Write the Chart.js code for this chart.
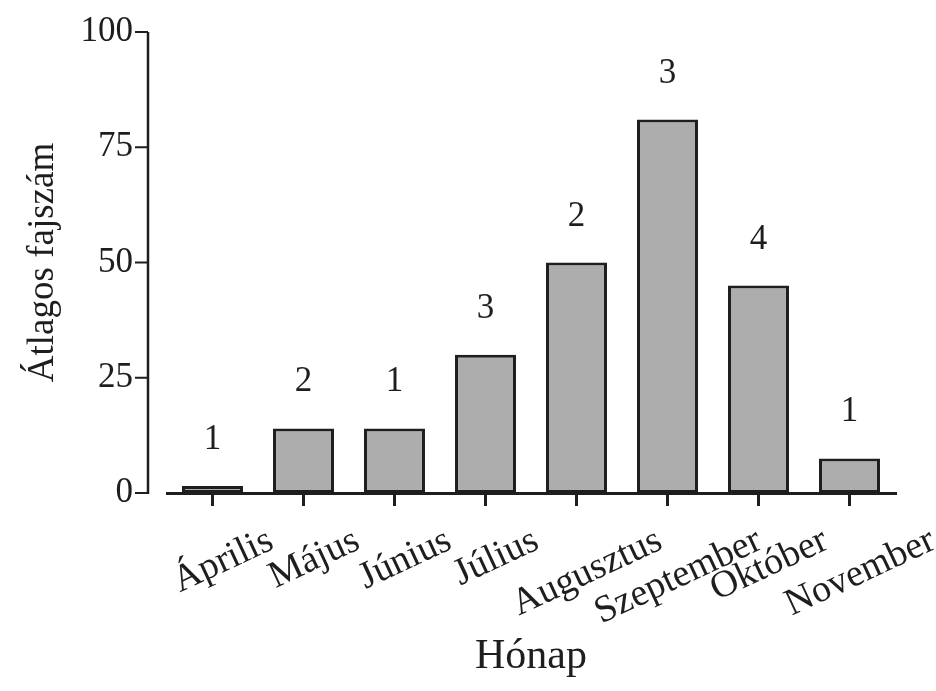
<!DOCTYPE html>
<html lang="hu">
<head>
<meta charset="utf-8">
<title>Átlagos fajszám havonta</title>
<script src="https://cdn.jsdelivr.net/npm/chart.js@4.4.1/dist/chart.umd.min.js"></script>
<style>
  html, body { margin: 0; padding: 0; background: #fff; }
  #wrap { width: 936px; height: 691px; }
</style>
</head>
<body>
<div id="wrap"><canvas id="chart" width="936" height="691"></canvas></div>
<script>
// values
const months = ['Április', 'Május', 'Június', 'Július', 'Augusztus', 'Szeptember', 'Október', 'November'];
const meanSpecies = [1.5, 14, 14, 30, 50, 81, 45, 7.5];
const sampleCounts = [1, 2, 1, 3, 2, 3, 4, 1];
const yTicks = [0, 25, 50, 75, 100];

const serif = '"Liberation Serif", "Times New Roman", serif';
const ink = '#1e1e1e';
const labelAngle = 25 * Math.PI / 180;

// y axis sits a little left of the plot, month names are centred under ticks
const figureMarks = {
    id: 'figureMarks',
    afterDraw(chart) {
        const { ctx, chartArea, scales } = chart;
        const x = scales.x;
        const y = scales.y;
        ctx.save();

        const axisX = chartArea.left - 19;
        ctx.strokeStyle = ink;
        ctx.lineWidth = 2.5;
        ctx.beginPath();
        ctx.moveTo(axisX, y.getPixelForValue(yTicks[yTicks.length - 1]));
        ctx.lineTo(axisX, y.getPixelForValue(0) + 1);
        ctx.stroke();
        ctx.lineWidth = 2;
        ctx.beginPath();
        yTicks.forEach(v => {
            const py = y.getPixelForValue(v);
            ctx.moveTo(axisX - 13, py);
            ctx.lineTo(axisX, py);
        });
        ctx.stroke();

        ctx.fillStyle = ink;
        ctx.font = `35px ${serif}`;
        ctx.textAlign = 'center';
        ctx.textBaseline = 'alphabetic';
        chart.getDatasetMeta(0).data.forEach((bar, i) => {
            ctx.fillText(String(sampleCounts[i]), bar.x, bar.y - 37);
        });

        ctx.font = `38px ${serif}`;
        ctx.textAlign = 'right';
        months.forEach((m, i) => {
            const w = ctx.measureText(m).width;
            const rx = x.getPixelForValue(i) + 15 + (w / 2) * Math.cos(labelAngle);
            const ry = chartArea.bottom + 55;
            ctx.save();
            ctx.translate(rx, ry);
            ctx.rotate(-labelAngle);
            ctx.fillText(m, 0, 0);
            ctx.restore();
        });

        ctx.restore();
    }
};

new Chart(document.getElementById('chart'), {
    type: 'bar',
    data: {
        labels: months,
        datasets: [{
            data: meanSpecies,
            backgroundColor: '#adadad',
            borderColor: ink,
            borderWidth: 3,
            borderSkipped: false,
            barPercentage: 0.67,
            categoryPercentage: 1
        }]
    },
    options: {
        responsive: false,
        animation: false,
        devicePixelRatio: 1,
        layout: { padding: { top: 32, right: 41, bottom: 0, left: 0 } },
        plugins: {
            legend: { display: false },
            tooltip: { enabled: false }
        },
        scales: {
            x: {
                offset: true,
                afterFit(s) { s.height = 198; },
                grid: {
                    offset: false,
                    drawOnChartArea: false,
                    drawTicks: true,
                    tickLength: 13,
                    color: ink,
                    lineWidth: 3
                },
                border: { display: true, color: ink, width: 3 },
                ticks: { display: false },
                title: {
                    display: true,
                    text: 'Hónap',
                    color: ink,
                    font: { family: serif, size: 42 },
                    padding: { top: 0, bottom: 9 }
                }
            },
            y: {
                min: 0,
                max: 100,
                afterFit(s) {
                    s.width = 167;
                    s.paddingTop = 0;
                    s.paddingBottom = 0;
                },
                afterBuildTicks(s) { s.ticks = yTicks.map(v => ({ value: v })); },
                grid: { display: false, drawTicks: false },
                border: { display: false },
                ticks: {
                    color: ink,
                    padding: 34,
                    font: { family: serif, size: 35 }
                },
                title: {
                    display: true,
                    text: 'Átlagos fajszám',
                    color: ink,
                    font: { family: serif, size: 37 },
                    padding: { top: 21, bottom: 0 }
                }
            }
        }
    },
    plugins: [figureMarks]
});
</script>
</body>
</html>
